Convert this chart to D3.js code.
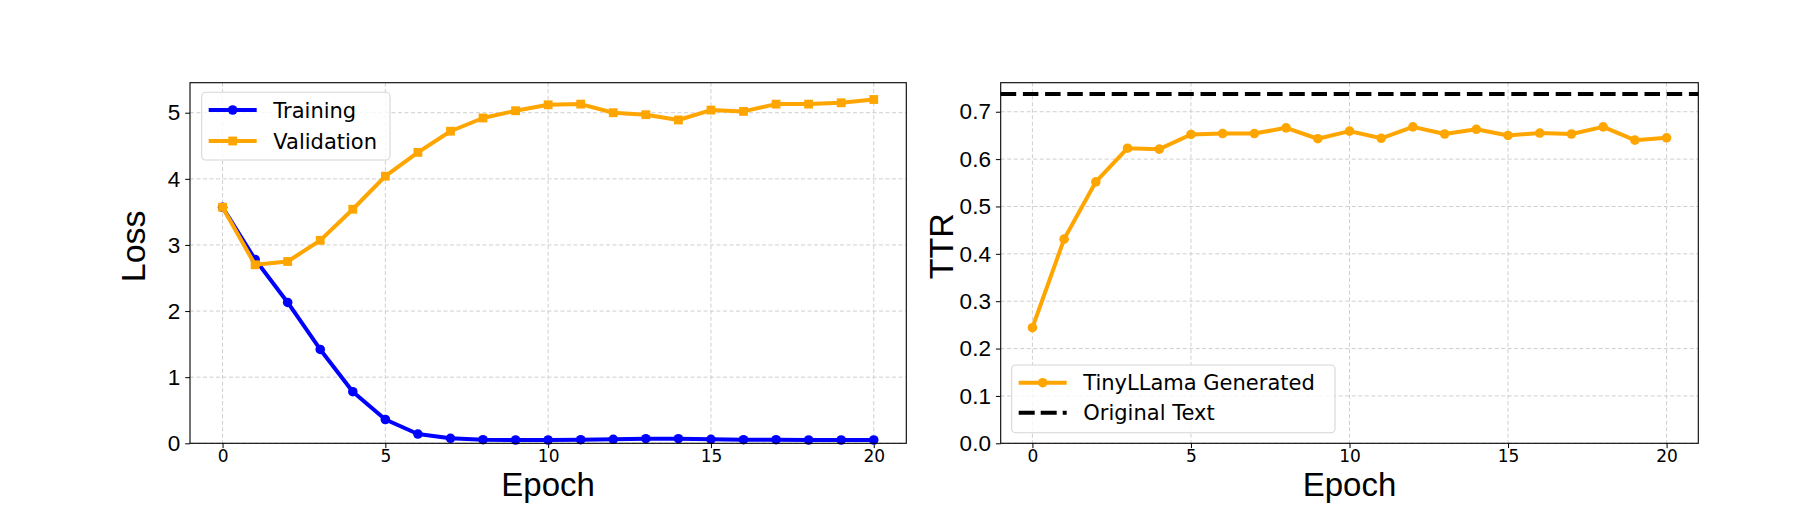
<!DOCTYPE html>
<html><head><meta charset="utf-8">
<script src="https://cdn.jsdelivr.net/npm/d3@7"></script>
<style>body{margin:0;background:#fff}</style></head>
<body><svg id="c" width="1810" height="530"></svg>
<script>
const epochs = [0,1,2,3,4,5,6,7,8,9,10,11,12,13,14,15,16,17,18,19,20];
const trainingLoss = [3.57,2.78,2.13,1.42,0.78,0.36,0.14,0.076,0.055,0.05,0.05,0.055,0.06,0.07,0.07,0.06,0.055,0.055,0.05,0.05,0.05];
const validationLoss = [3.57,2.70,2.75,3.07,3.54,4.04,4.40,4.72,4.92,5.03,5.12,5.13,5.00,4.97,4.89,5.04,5.02,5.13,5.13,5.15,5.20];
const ttrGenerated = [0.244,0.431,0.552,0.623,0.621,0.652,0.654,0.654,0.666,0.643,0.659,0.644,0.668,0.653,0.663,0.650,0.655,0.653,0.668,0.640,0.645];
const originalTTR = 0.7375;
const xTicks = [0,5,10,15,20];
const lossTicks = [0,1,2,3,4,5];
const ttrTicks = [0.0,0.1,0.2,0.3,0.4,0.5,0.6,0.7];

const svg = d3.select("#c");
const BLUE = "#0000ff", ORANGE = "#ffa500";
const sansA = "'Liberation Sans', Arial, sans-serif";
const sansD = "'DejaVu Sans', sans-serif";

function panel(p) {
  const x = d3.scaleLinear().domain([-1, 21]).range([p.x0, p.x1]);
  const y = d3.scaleLinear().domain(p.ydom).range([p.y1, p.y0]);
  const g = svg.append("g");
  const grid = g.append("g").attr("stroke", "#cfcfcf").attr("stroke-width", 1).attr("stroke-dasharray", "4,2.5");
  grid.selectAll("line.v").data(xTicks).join("line")
    .attr("x1", d => x(d)).attr("x2", d => x(d)).attr("y1", p.y0).attr("y2", p.y1);
  grid.selectAll("line.h").data(p.yticks).join("line")
    .attr("x1", p.x0).attr("x2", p.x1).attr("y1", d => y(d)).attr("y2", d => y(d));
  const xa = g.append("g").attr("transform", `translate(0,${p.y1})`)
    .call(d3.axisBottom(x).tickValues(xTicks).tickSize(4.8).tickPadding(2).tickFormat(d3.format("d")));
  xa.select(".domain").remove();
  xa.selectAll("text").attr("font-family", sansD).attr("font-size", 17).attr("fill", "#000");
  const ya = g.append("g").attr("transform", `translate(${p.x0},0)`)
    .call(d3.axisLeft(y).tickValues(p.yticks).tickSize(4.8).tickPadding(5).tickFormat(p.fmt));
  ya.select(".domain").remove();
  ya.selectAll("text").attr("font-family", sansA).attr("font-size", 22.5).attr("fill", "#000");
  g.append("text").attr("x", (p.x0 + p.x1) / 2).attr("y", 496).attr("text-anchor", "middle")
    .attr("font-family", sansA).attr("font-size", 33).text("Epoch");
  g.append("text").attr("transform", `translate(${p.ylabX},246.3) rotate(-90)`).attr("text-anchor", "middle")
    .attr("font-family", sansA).attr("font-size", 34).text(p.ylabel);
  return {x, y, g};
}

function series(P, vals, color, marker) {
  const line = d3.line().x((d, i) => P.x(epochs[i])).y(d => P.y(d));
  P.g.append("path").datum(vals).attr("d", line).attr("fill", "none")
    .attr("stroke", color).attr("stroke-width", 4).attr("stroke-linejoin", "round");
  const sym = d3.symbol().type(marker === "s" ? d3.symbolSquare : d3.symbolCircle).size(marker === "s" ? 78 : 72);
  P.g.selectAll(null).data(vals).join("path")
    .attr("transform", (d, i) => `translate(${P.x(epochs[i])},${P.y(d)})`)
    .attr("d", sym).attr("fill", color);
}

function frame(p) {
  svg.append("rect").attr("x", p.x0).attr("y", p.y0).attr("width", p.x1 - p.x0).attr("height", p.y1 - p.y0)
    .attr("fill", "none").attr("stroke", "#000").attr("stroke-width", 1.1);
}

function legend(lx, ly, w, h, items) {
  const g = svg.append("g");
  g.append("rect").attr("x", lx).attr("y", ly).attr("width", w).attr("height", h).attr("rx", 4)
    .attr("fill", "#fff").attr("fill-opacity", 0.8).attr("stroke", "#d6d6d6").attr("stroke-width", 1.1);
  items.forEach(it => {
    g.append("line").attr("x1", lx + 7).attr("x2", lx + 55).attr("y1", it.y).attr("y2", it.y)
      .attr("stroke", it.color).attr("stroke-width", 4).attr("stroke-dasharray", it.dash || null);
    if (it.marker) {
      const sym = d3.symbol().type(it.marker === "s" ? d3.symbolSquare : d3.symbolCircle).size(it.marker === "s" ? 78 : 72);
      g.append("path").attr("transform", `translate(${lx + 31},${it.y})`).attr("d", sym).attr("fill", it.color);
    }
    g.append("text").attr("x", lx + 71.6).attr("y", it.y + 7.6).attr("font-family", sansD).attr("font-size", 21)
      .attr("fill", "#000").text(it.label);
  });
}

const pL = {x0: 190, x1: 906.3, y0: 82.7, y1: 443.3, ydom: [0, 5.454], yticks: lossTicks, fmt: d3.format("d"), ylabel: "Loss", ylabX: 145};
const pR = {x0: 1000.7, x1: 1698.3, y0: 82.7, y1: 443.3, ydom: [0, 0.7613], yticks: ttrTicks, fmt: d3.format(".1f"), ylabel: "TTR", ylabX: 953.3};

const L = panel(pL);
series(L, trainingLoss, BLUE, "o");
series(L, validationLoss, ORANGE, "s");
frame(pL);
legend(201.7, 92.3, 188.3, 67.7, [
  {y: 110, color: BLUE, marker: "o", label: "Training"},
  {y: 141, color: ORANGE, marker: "s", label: "Validation"}
]);

const R = panel(pR);
series(R, ttrGenerated, ORANGE, "o");
R.g.append("line").attr("x1", pR.x0).attr("x2", pR.x1).attr("y1", R.y(originalTTR)).attr("y2", R.y(originalTTR))
  .attr("stroke", "#000").attr("stroke-width", 4).attr("stroke-dasharray", "15.5,6.7");
frame(pR);
legend(1011.7, 365, 323.3, 67.7, [
  {y: 382.7, color: ORANGE, marker: "o", label: "TinyLLama Generated"},
  {y: 412.7, color: "#000", dash: "16,6", label: "Original Text"}
]);
</script></body></html>
